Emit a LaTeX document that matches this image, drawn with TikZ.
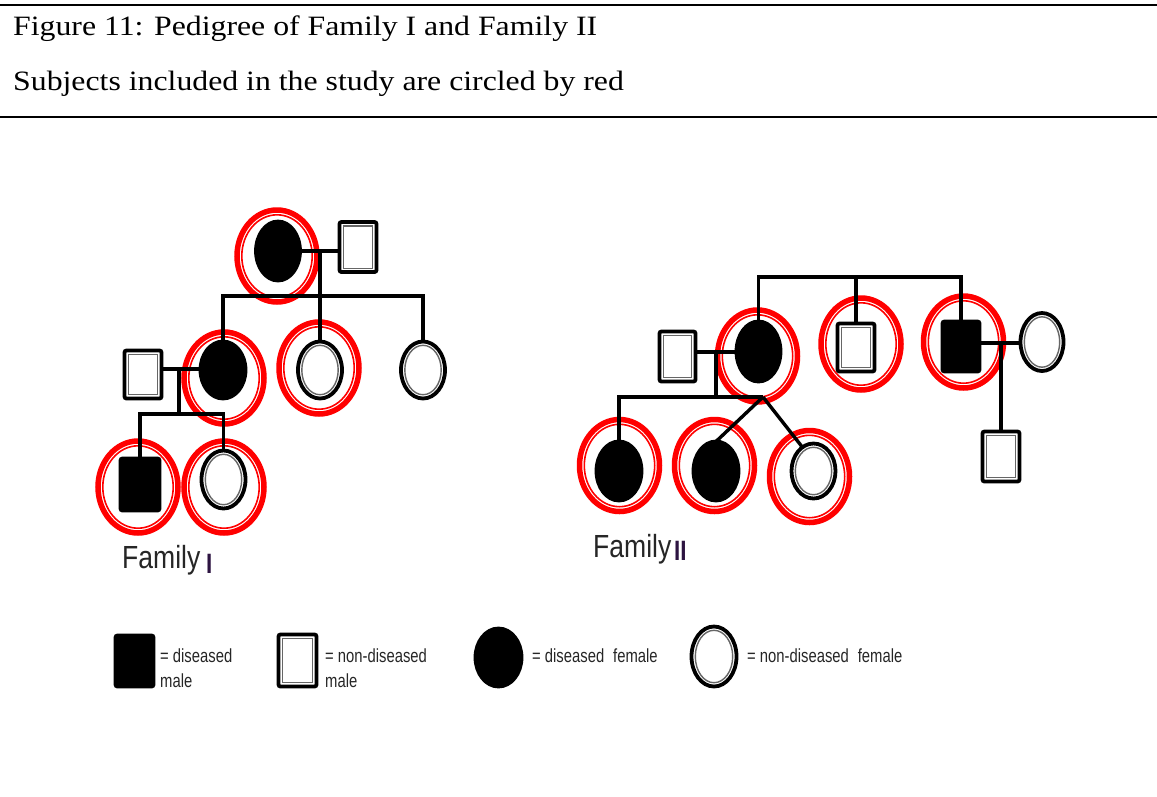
\documentclass[tikz,border=0pt]{standalone}
\usepackage{fontspec}
\usepackage{graphicx}
\setmainfont{Liberation Serif}
\newfontfamily\arialfont{Liberation Sans}
\usetikzlibrary{shapes.geometric}

\pgfdeclarelayer{rings}
\pgfdeclarelayer{links}
\pgfsetlayers{rings,links,main}

\tikzset{
  sz/.style 2 args={minimum width={#1*1pt}, minimum height={#2*1pt}},
  szi/.style 2 args={minimum width={(#1-7.6)*1pt}, minimum height={(#2-7.6)*1pt}},
  sym/.style={inner sep=0pt, outer sep=0pt, line width=3.8pt, draw=black},
  inl/.style={inner sep=0pt, outer sep=0pt, line width=1.4pt, draw=black!60},
  conn/.style={line width=3.4pt, black, line join=miter},
  ringo/.style={ellipse, inner sep=0pt, outer sep=0pt, draw=red, line width=5.5pt, minimum width=80pt, minimum height=92pt},
  ringi/.style={ellipse, inner sep=0pt, outer sep=0pt, draw=red, line width=1.6pt, minimum width=70.4pt, minimum height=82.4pt},
  ttl/.style={anchor=base west, inner sep=0pt, font=\fontsize{28}{33}\selectfont},
  lgd/.style={anchor=base west, inner sep=0pt, text=black!85, font=\arialfont\fontsize{19}{22}\selectfont},
  fam/.style={anchor=base west, inner sep=0pt, text=black!85, font=\arialfont\fontsize{32}{36}\selectfont},
  famnum/.style={anchor=base west, inner sep=0pt, text={rgb,255:red,45;green,20;blue,65}, font=\arialfont\bfseries\fontsize{28}{32}\selectfont},
}

% pedigree symbols: name, position, width, height
\newcommand\Dmale[4]{\node[sym, rectangle, rounded corners=2pt, fill=black, sz={#3}{#4}] (#1) at (#2) {};}
\newcommand\Omale[4]{\node[sym, rectangle, rounded corners=2pt, fill=white, sz={#3}{#4}] (#1) at (#2) {};
  \node[inl, rectangle, szi={#3}{#4}] (#1i) at (#1.center) {};}
\newcommand\Dfem[4]{\node[sym, ellipse, fill=black, sz={#3}{#4}] (#1) at (#2) {};}
\newcommand\Ofem[4]{\node[sym, ellipse, fill=white, sz={#3}{#4}] (#1) at (#2) {};
  \node[inl, ellipse, szi={#3}{#4}] (#1i) at (#1.center) {};}
% red double ring marking a studied subject
\newcommand\Ring[2]{\begin{pgfonlayer}{rings}
  \node[ringo] (#1) at (#2) {};
  \node[ringi] (#1i) at (#1.center) {};
\end{pgfonlayer}}
\newcommand\nrw[2]{\scalebox{#1}[1]{#2}}

\begin{document}
\begin{tikzpicture}[x=1pt, y=-1pt]
\useasboundingbox (0,0) rectangle (1157,796);

% caption block
\draw[line width=2.5pt] (0,5) -- (1157,5);
\draw[line width=2.5pt] (0,117) -- (1157,117);
\node[ttl] (cap1) at (13,35) {\nrw{1.135}{Figure 11: Pedigree of Family I and Family II}};
\node[ttl] (cap2) at (13,90) {\nrw{1.135}{Subjects included in the study are circled by red}};

% ---------------- Family I ----------------
\Ring{r1a}{277,256}
\Dfem{f1a}{278,251}{44}{59}
\Omale{m1a}{358,247}{37}{50}

\Ring{r2a}{224,378}
\Dfem{f2a}{223,370}{45}{57}
\Ring{r2b}{319,368}
\Ofem{f2b}{320,370}{44}{57}
\Ofem{f2c}{423,370}{44}{57}
\Omale{m2a}{143,374.5}{37}{48}

\Ring{r3a}{138,487}
\Dmale{m3a}{140,484.5}{39}{52}
\Ring{r3b}{224,487}
\Ofem{f3a}{223.5,479.5}{44}{58}

\coordinate (s1) at (320,296);
\coordinate (k2) at (179,369);
\coordinate (s2) at (179,414);

\begin{pgfonlayer}{links}
\draw[conn] (f1a.east) -- (m1a.west |- f1a.east);
\draw[conn] (f1a.east -| s1) -- (s1);
\draw[conn] (f2a.north) |- (f2c.north |- s1) -- (f2c.north);
\draw[conn] (f2b.north) -- (f2b.north |- s1);
\draw[conn] (m2a.east |- k2) -- (f2a.west |- k2);
\draw[conn] (k2) -- (s2);
\draw[conn] (m3a.north) |- (f3a.north |- s2) -- (f3a.north);
\end{pgfonlayer}

\node[fam] (lab1) at (122,568) {\nrw{0.83}{Family}};
\node[famnum] (lab1n) at (206,573) {\nrw{0.8}{I}};

% ---------------- Family II ----------------
\Ring{r4a}{757.5,356}
\Dfem{f4a}{758.5,351.5}{44}{60}
\Ring{r4b}{861,344}
\Omale{m4b}{856,347.5}{37}{48}
\Ring{r4c}{963.5,342}
\Dmale{m4c}{961,346.5}{37}{50}
\Ofem{f4d}{1042,342}{43}{58}
\Omale{m4a}{677.5,356.5}{36}{50}
\Omale{m5a}{1001,456.5}{37}{50}

\Ring{r5a}{619.5,465.5}
\Dfem{f5a}{619,471}{45}{59}
\Ring{r5b}{714.5,465.5}
\Dfem{f5b}{716,471}{45}{59}
\Ring{r5c}{809.5,476.5}
\Ofem{f5c}{813.5,471}{44}{55}

\coordinate (s4) at (758,277);
\coordinate (k4) at (716,352);
\coordinate (s5) at (716,396);
\coordinate (v5) at (763,397);
\coordinate (k5) at (1001,343);

\begin{pgfonlayer}{links}
\draw[conn] (f4a.north) |- (m4c.north |- s4) -- (m4c.north);
\draw[conn] (m4b.north) -- (m4b.north |- s4);
\draw[conn] (m4a.east |- k4) -- (f4a.west |- k4);
\draw[conn] (k4) -- (s5);
\draw[conn] (f5a.north) |- (v5);
\draw[conn] (v5) -- (f5b.north);
\draw[conn] (v5) -- (f5c.115);
\draw[conn] (m4c.east |- k5) -- (f4d.west |- k5);
\draw[conn] (k5) -- (m5a.north);
\end{pgfonlayer}

\node[fam] (lab2) at (593,557) {\nrw{0.83}{Family}};
\node[famnum] (lab2n) at (674,560) {\nrw{0.8}{II}};

% ---------------- key ----------------
\Dmale{l1}{134.5,661}{38}{51}
\Omale{l2}{297.5,660.5}{38}{52}
\Dfem{l3}{498.5,657.5}{46}{58}
\Ofem{l4}{714,656.5}{45}{60}

\node[lgd] (t1) at (160,662) {\nrw{0.78}{= diseased}};
\node[lgd] (t1b) at (160,687) {\nrw{0.78}{male}};
\node[lgd] (t2) at (325,662) {\nrw{0.78}{= non-diseased}};
\node[lgd] (t2b) at (325,687) {\nrw{0.78}{male}};
\node[lgd] (t3) at (532,662) {\nrw{0.78}{= diseased\hspace{0.6em}female}};
\node[lgd] (t4) at (747,662) {\nrw{0.78}{= non-diseased\hspace{0.6em}female}};
\end{tikzpicture}
\end{document}
